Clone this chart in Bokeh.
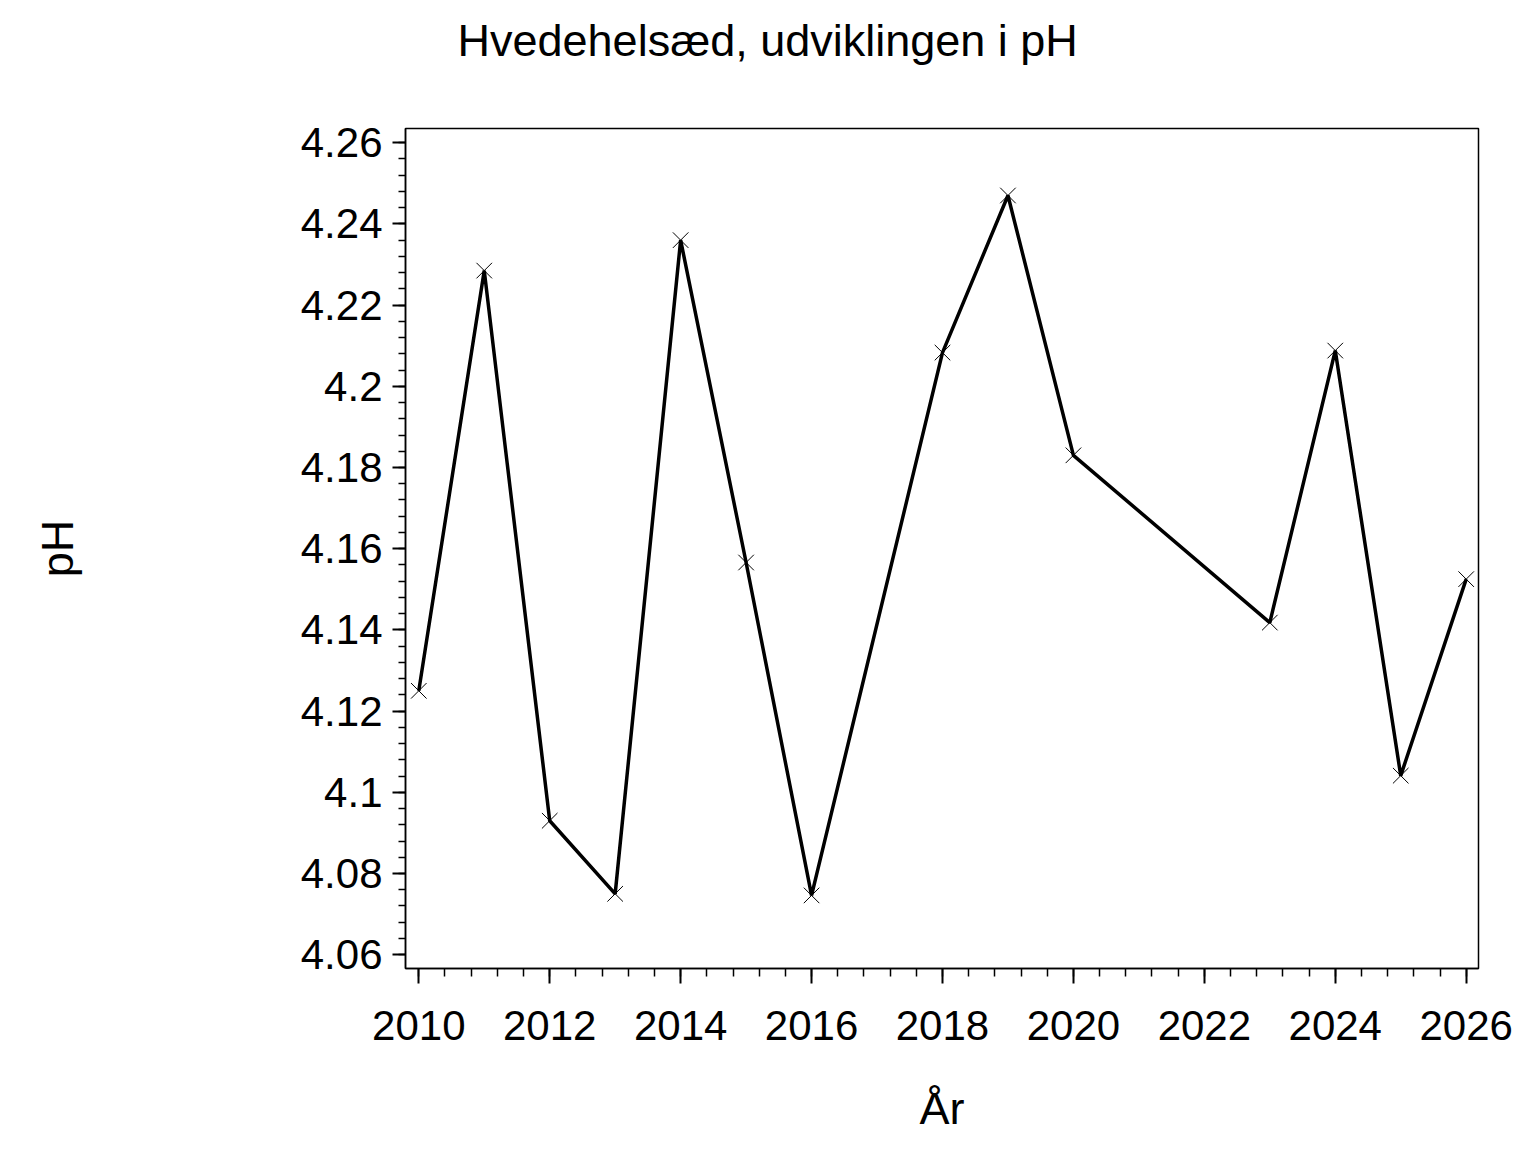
from bokeh.plotting import figure
from bokeh.models import FixedTicker, Range1d, Title
from bokeh.embed import file_html
from bokeh.resources import INLINE

title_text = "Hvedehelsæd, udviklingen i pH"
x_label = "År"
y_label = "pH"

years = [2010, 2011, 2012, 2013, 2014, 2015, 2016, 2018, 2019, 2020, 2023, 2024, 2025, 2026]
ph = [4.125, 4.2285, 4.093, 4.075, 4.236, 4.1566, 4.0746, 4.2083, 4.247, 4.183, 4.1418, 4.2088, 4.1041, 4.1525]

x_ticks = [2010, 2012, 2014, 2016, 2018, 2020, 2022, 2024, 2026]
y_ticks = [4.06, 4.08, 4.10, 4.12, 4.14, 4.16, 4.18, 4.20, 4.22, 4.24, 4.26]
y_tick_labels = ["4.06", "4.08", "4.1", "4.12", "4.14", "4.16", "4.18", "4.2", "4.22", "4.24", "4.26"]

FONT = "Liberation Sans"

W, H = 1520, 1136
p = figure(width=W, height=H, output_backend="svg", toolbar_location=None,
           x_range=Range1d(2009.797, 2026.188), y_range=Range1d(4.0566, 4.2635),
           min_border_left=405, min_border_right=42, min_border_top=128, min_border_bottom=166)

p.line(years, ph, line_color="black", line_width=3.5)
p.scatter(years, ph, marker="x", size=22, line_color="black", line_width=1)

p.grid.visible = False
p.outline_line_color = "black"
p.outline_line_width = 1.5

p.xaxis.ticker = FixedTicker(ticks=x_ticks,
                             minor_ticks=[2010 + 0.4 * i for i in range(0, 41)])
p.yaxis.ticker = FixedTicker(ticks=y_ticks,
                             minor_ticks=[round(4.06 + 0.004 * i, 3) for i in range(0, 51)])
p.yaxis.major_label_overrides = {t: l for t, l in zip(y_ticks, y_tick_labels)}

for ax in (p.xaxis[0], p.yaxis[0]):
    ax.axis_line_color = "black"
    ax.axis_line_width = 1.5
    ax.major_tick_line_color = "black"
    ax.major_tick_line_width = 2
    ax.minor_tick_line_color = "black"
    ax.minor_tick_line_width = 1.5
    ax.major_tick_in = 0
    ax.minor_tick_in = 0
    ax.major_label_text_font = FONT
    ax.major_label_text_font_size = "42px"
    ax.major_label_text_color = "black"
    ax.axis_label_text_font = FONT
    ax.axis_label_text_font_size = "45px"
    ax.axis_label_text_font_style = "normal"
    ax.axis_label_text_color = "black"

p.xaxis.major_tick_out = 15
p.xaxis.minor_tick_out = 8
p.yaxis.major_tick_out = 13
p.yaxis.minor_tick_out = 7
p.xaxis.major_label_standoff = 27
p.yaxis.major_label_standoff = 10
p.xaxis.axis_label = x_label
p.yaxis.axis_label = y_label
p.xaxis.axis_label_standoff = 40
p.yaxis.axis_label_standoff = 215

spacer = Title(text=" ", text_font=FONT, text_font_size="44px", standoff=10)
p.add_layout(spacer, "above")
title = Title(text=title_text, align="left", offset=52, standoff=0,
              vertical_align="top",
              text_font=FONT, text_font_size="45px", text_font_style="normal",
              text_color="black")
p.add_layout(title, "above")

open("out.html", "w").write(file_html(p, INLINE))
